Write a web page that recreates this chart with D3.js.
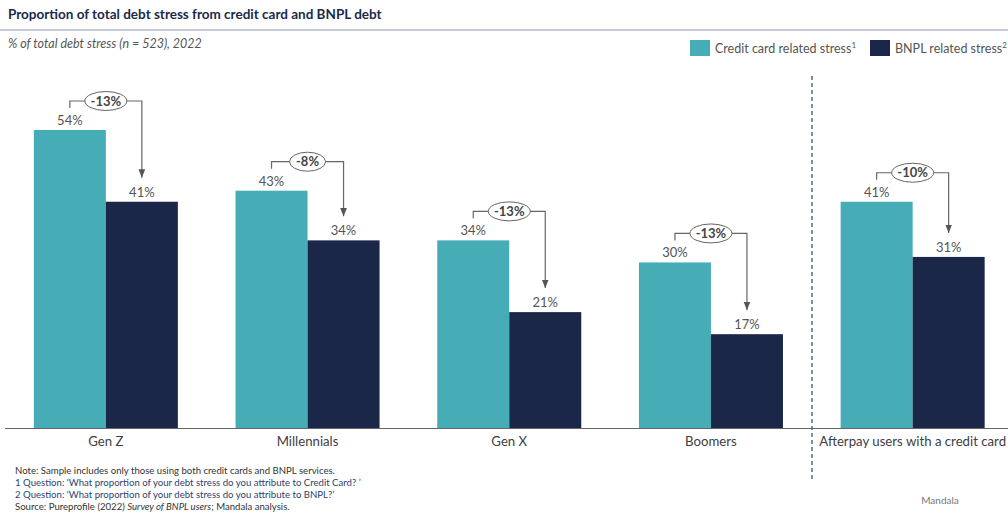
<!DOCTYPE html>
<html>
<head>
<meta charset="utf-8">
<script src="https://cdn.jsdelivr.net/npm/d3@7"></script>
<style>
  body { margin: 0; background: #fff; }
  svg { font-family: Lato, "Open Sans", sans-serif; display: block; }
</style>
</head>
<body>
<svg id="chart"></svg>
<script>
const width = 1008;
const height = 516;

// data
const categories = ['Gen Z', 'Millennials', 'Gen X', 'Boomers', 'Afterpay users with a credit card'];
const series = ['Credit card related stress', 'BNPL related stress'];
const creditCard = [54, 43, 34, 30, 41];
const bnpl = [41, 34, 21, 17, 31];
const diffs = ['-13%', '-8%', '-13%', '-13%', '-10%'];
const footnotes = [
  'Note: Sample includes only those using both credit cards and BNPL services.',
  '1 Question: \u2018What proportion of your debt stress do you attribute to Credit Card? \u2019',
  '2 Question: \u2018What proportion of your debt stress do you attribute to BNPL?\u2019'
];

const teal = '#46adb7';
const navy = '#1b2749';
const colors = [teal, navy];

const svg = d3.select('#chart')
  .attr('width', width)
  .attr('height', height);

const baseY = 428;

// scales
const x = d3.scaleBand().domain(categories)
  .range([5, 1013.5])
  .paddingInner(0.286)
  .paddingOuter(0.143);
const xs = d3.scaleBand().domain(series).range([0, x.bandwidth()]);
const y = d3.scaleLinear().domain([0, 54]).range([baseY, baseY - 298]);

// arrow marker
svg.append('defs').append('marker')
  .attr('id', 'arrow')
  .attr('viewBox', '0 0 10 10')
  .attr('refX', 10).attr('refY', 5)
  .attr('markerWidth', 7).attr('markerHeight', 7)
  .attr('orient', 'auto')
  .append('path').attr('d', 'M0,1 L10,5 L0,9 Z').attr('fill', '#555');

// title
svg.append('text')
  .attr('x', 8).attr('y', 19)
  .attr('font-size', 13.5).attr('font-weight', 'bold')
  .attr('fill', '#1b2a4a')
  .text('Proportion of total debt stress from credit card and BNPL debt');
svg.append('line')
  .attr('x1', 0).attr('x2', width).attr('y1', 30).attr('y2', 30)
  .attr('stroke', '#8a97ad').attr('stroke-width', 1);
svg.append('text')
  .attr('x', 8).attr('y', 48)
  .attr('font-size', 12.5).attr('font-style', 'italic')
  .attr('fill', '#555')
  .text('% of total debt stress (n = 523), 2022');

// legend
const legendX = [690, 870];
series.forEach((s, i) => {
  const lg = svg.append('g').attr('transform', `translate(${legendX[i]},40)`);
  lg.append('rect').attr('width', 20).attr('height', 16).attr('fill', colors[i]);
  const t = lg.append('text').attr('x', 25).attr('y', 13)
    .attr('font-size', 12.5).attr('fill', '#555').text(s);
  t.append('tspan').attr('font-size', 8).attr('dy', -5).text(i + 1);
});

// bars
const groups = svg.append('g').selectAll('g.grp')
  .data(categories.map((c, i) => ({c, vals: [creditCard[i], bnpl[i]], diff: diffs[i]})))
  .join('g')
  .attr('class', 'grp')
  .attr('transform', (d) => `translate(${x(d.c)},0)`);

groups.selectAll('rect')
  .data((d) => d.vals.map((v, j) => ({v, s: series[j], j})))
  .join('rect')
  .attr('x', (d) => xs(d.s))
  .attr('y', (d) => y(d.v))
  .attr('width', xs.bandwidth())
  .attr('height', (d) => baseY - y(d.v))
  .attr('fill', (d) => colors[d.j]);

groups.selectAll('text.val')
  .data((d) => d.vals.map((v, j) => ({v, s: series[j]})))
  .join('text')
  .attr('class', 'val')
  .attr('x', (d) => xs(d.s) + xs.bandwidth() / 2)
  .attr('y', (d) => y(d.v) - 5)
  .attr('text-anchor', 'middle')
  .attr('font-size', 13).attr('fill', '#555')
  .text((d) => d.v + '%');

// difference brackets
groups.each(function (d) {
  const g = d3.select(this);
  const x1 = xs(series[0]) + xs.bandwidth() / 2;
  const x2 = xs(series[1]) + xs.bandwidth() / 2;
  const top = y(d.vals[0]) - 29;
  g.append('path')
    .attr('d', `M${x1},${top + 7} V${top} H${x2} V${y(d.vals[1]) - 24}`)
    .attr('fill', 'none').attr('stroke', '#666').attr('stroke-width', 1.2)
    .attr('marker-end', 'url(#arrow)');
  const cx = (x1 + x2) / 2;
  g.append('ellipse')
    .attr('cx', cx).attr('cy', top)
    .attr('rx', d.diff.length > 3 ? 21 : 18).attr('ry', 9.5)
    .attr('fill', '#fff').attr('stroke', '#666').attr('stroke-width', 1);
  g.append('text')
    .attr('x', cx).attr('y', top + 4.5)
    .attr('text-anchor', 'middle')
    .attr('font-size', 13).attr('font-weight', 'bold').attr('fill', '#444')
    .text(d.diff);
});

// axis
const xAxis = d3.axisBottom(x).tickSize(0).tickPadding(9);
const gx = svg.append('g')
  .attr('transform', `translate(0,${baseY})`)
  .call(xAxis);
gx.select('.domain').attr('stroke', '#666').attr('stroke-width', 1)
  .attr('d', `M5,0.5H${width}`);
gx.selectAll('text')
  .attr('font-family', 'Lato, "Open Sans", sans-serif')
  .attr('font-size', 13.2).attr('fill', '#404040');

// separator
svg.append('line')
  .attr('x1', 812).attr('x2', 812).attr('y1', 76).attr('y2', 481)
  .attr('stroke', '#5a6a88').attr('stroke-width', 1.5)
  .attr('stroke-dasharray', '4,3');

// footnotes
const fn = svg.append('g').attr('font-size', 9.6);
const fnColors = ['#333', '#2f3f6e', '#2f3f6e'];
footnotes.forEach((t, i) => {
  fn.append('text').attr('x', 15).attr('y', 474 + i * 12)
    .attr('fill', fnColors[i]).text(t);
});
const src = fn.append('text').attr('x', 15).attr('y', 510).attr('fill', '#333');
src.append('tspan').text('Source: Pureprofile (2022) ');
src.append('tspan').attr('font-style', 'italic').text('Survey of BNPL users');
src.append('tspan').text('; Mandala analysis.');

svg.append('text')
  .attr('x', 940).attr('y', 504)
  .attr('text-anchor', 'middle')
  .attr('font-size', 10).attr('fill', '#777')
  .text('Mandala');
</script>
</body>
</html>
